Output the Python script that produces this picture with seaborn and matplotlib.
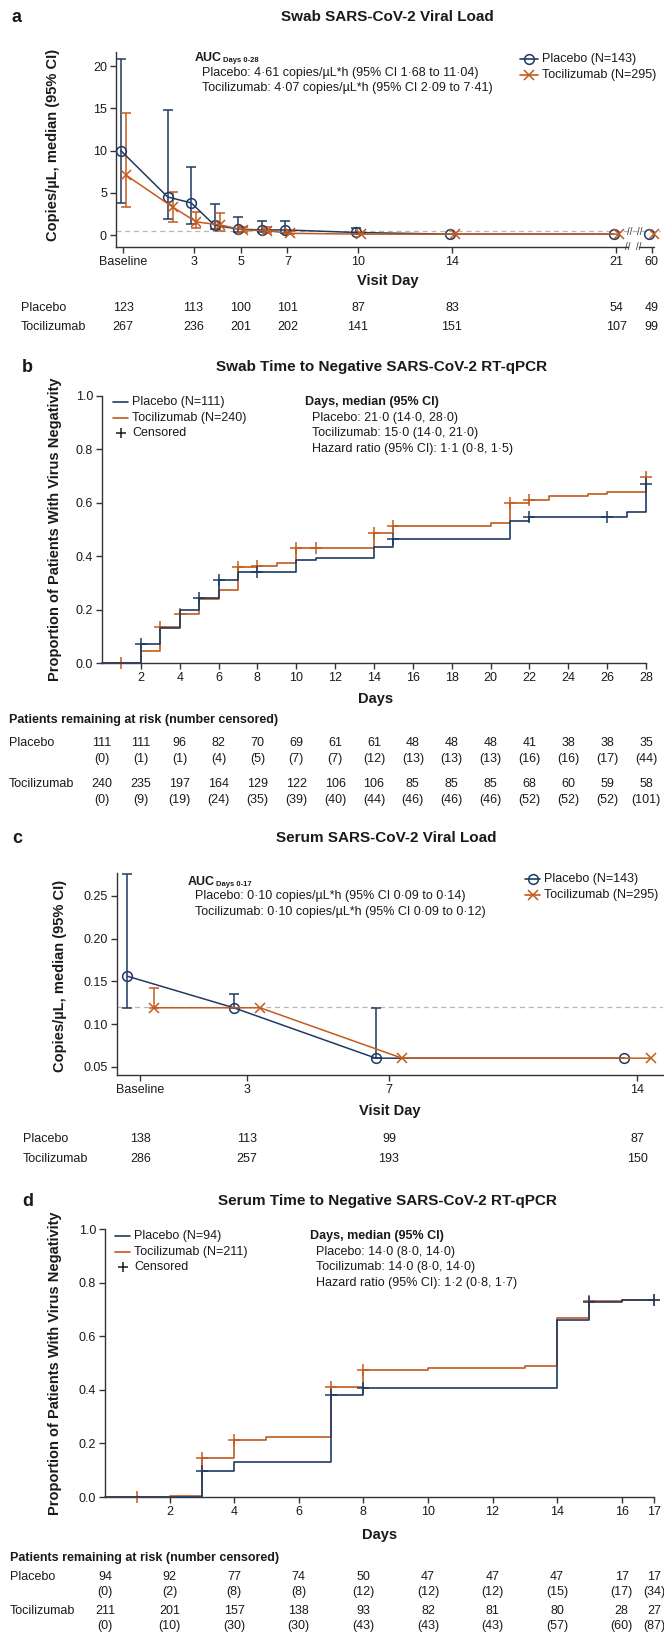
#!/usr/bin/env python3
"""
Swab / serum SARS-CoV-2 viral load and time to negative RT-qPCR (4 panels)
"""

import numpy as np
import pandas as pd
import matplotlib
matplotlib.use('Agg')
import matplotlib.pyplot as plt
import matplotlib.transforms as mtransforms
from matplotlib.lines import Line2D
from matplotlib.ticker import FormatStrFormatter
import seaborn as sns

sns.set_theme(style='ticks')
plt.rcParams['font.family'] = ['Liberation Sans', 'DejaVu Sans']
plt.rcParams['text.color'] = '#1a1a1a'

# ---------------- data ----------------
# a: swab viral load, median (95% CI) by visit day (0 = baseline)
swab_days = [0, 2, 3, 4, 5, 6, 7, 10, 14, 21, 60]
swab_pbo_med = [10.0, 4.5, 3.8, 1.15, 0.7, 0.6, 0.6, 0.3, 0.1, 0.1, 0.1]
swab_pbo_lo = [3.8, 1.9, 1.3, 0.7, 0.4, 0.3, 0.2, 0.1, 0.1, 0.1, 0.1]
swab_pbo_hi = [20.8, 14.8, 8.0, 3.7, 2.1, 1.7, 1.6, 0.8, 0.1, 0.1, 0.1]
swab_tcz_med = [7.1, 3.3, 1.55, 1.2, 0.6, 0.5, 0.2, 0.1, 0.1, 0.1, 0.1]
swab_tcz_lo = [3.3, 1.5, 0.8, 0.5, 0.3, 0.2, 0.1, 0.1, 0.1, 0.1, 0.1]
swab_tcz_hi = [14.4, 5.1, 2.7, 2.6, 1.0, 1.0, 0.5, 0.2, 0.1, 0.1, 0.1]
swab_tick_days = [0, 3, 5, 7, 10, 14, 21, 60]
swab_tick_labels = ['Baseline', '3', '5', '7', '10', '14', '21', '60']
swab_n_pbo = [123, 113, 100, 101, 87, 83, 54, 49]
swab_n_tcz = [267, 236, 201, 202, 141, 151, 107, 99]

# b: swab time to negative RT-qPCR (Kaplan-Meier)
swab_km_pbo_t = [0, 2, 3, 4, 5, 6, 7, 10, 11, 14, 15, 21, 22, 27, 28]
swab_km_pbo_s = [0, 0.07, 0.13, 0.20, 0.245, 0.31, 0.34, 0.385, 0.395, 0.435, 0.465,
                 0.53, 0.548, 0.567, 0.67]
swab_km_pbo_cens = [2, 5, 6, 8, 15, 22, 26, 28]
swab_km_tcz_t = [0, 2, 3, 4, 5, 6, 7, 8, 9, 10, 14, 15, 20, 21, 22, 23, 25, 26, 28]
swab_km_tcz_s = [0, 0.045, 0.135, 0.185, 0.24, 0.275, 0.36, 0.365, 0.375, 0.43, 0.488,
                 0.513, 0.523, 0.60, 0.61, 0.625, 0.633, 0.64, 0.695]
swab_km_tcz_cens = [1, 3, 4, 7, 8, 10, 11, 14, 15, 21, 22, 28]
swab_risk_days = list(range(0, 29, 2))
swab_risk_pbo = [111, 111, 96, 82, 70, 69, 61, 61, 48, 48, 48, 41, 38, 38, 35]
swab_cens_pbo = [0, 1, 1, 4, 5, 7, 7, 12, 13, 13, 13, 16, 16, 17, 44]
swab_risk_tcz = [240, 235, 197, 164, 129, 122, 106, 106, 85, 85, 85, 68, 60, 59, 58]
swab_cens_tcz = [0, 9, 19, 24, 35, 39, 40, 44, 46, 46, 46, 52, 52, 52, 101]

# c: serum viral load
serum_days = [0, 3, 7, 14]
serum_pbo_med = [0.156, 0.119, 0.06, 0.06]
serum_pbo_lo = [0.119, 0.119, 0.06, 0.06]
serum_pbo_hi = [0.276, 0.135, 0.119, 0.06]
serum_tcz_med = [0.119, 0.119, 0.06, 0.06]
serum_tcz_lo = [0.119, 0.119, 0.06, 0.06]
serum_tcz_hi = [0.142, 0.119, 0.06, 0.06]
serum_tick_labels = ['Baseline', '3', '7', '14']
serum_n_pbo = [138, 113, 99, 87]
serum_n_tcz = [286, 257, 193, 150]

# d: serum time to negative RT-qPCR
serum_km_pbo_t = [0, 3, 4, 7, 8, 14, 15, 16, 17]
serum_km_pbo_s = [0, 0.098, 0.132, 0.38, 0.405, 0.66, 0.726, 0.734, 0.734]
serum_km_pbo_cens = [3, 7, 8, 15, 17]
serum_km_tcz_t = [0, 2, 3, 4, 5, 7, 8, 10, 13, 14, 15, 16, 17]
serum_km_tcz_s = [0, 0.005, 0.145, 0.213, 0.224, 0.41, 0.475, 0.48, 0.487, 0.668, 0.73,
                  0.734, 0.734]
serum_km_tcz_cens = [1, 3, 4, 7, 8, 15, 17]
serum_risk_days = [0, 2, 4, 6, 8, 10, 12, 14, 16, 17]
serum_risk_pbo = [94, 92, 77, 74, 50, 47, 47, 47, 17, 17]
serum_cens_pbo = [0, 2, 8, 8, 12, 12, 12, 15, 17, 34]
serum_risk_tcz = [211, 201, 157, 138, 93, 82, 81, 80, 28, 27]
serum_cens_tcz = [0, 10, 30, 30, 43, 43, 43, 57, 60, 87]

# ---------------- layout helpers ----------------
NAVY = '#1f3b63'
ORANGE = '#c45a1c'
SPINE = '#333333'
W, H = 664, 1644

fig = plt.figure(figsize=(W / 100, H / 100), dpi=100)


def fx(x):
    return x / W


def fy(y):
    return 1 - y / H


def add_ax(l, t, r, b):
    return fig.add_axes([fx(l), fy(b), (r - l) / W, (b - t) / H])


def ftext(x, y, s, **kw):
    kw.setdefault('va', 'center')
    kw.setdefault('fontsize', 9)
    return fig.text(fx(x), fy(y), s, **kw)


def style_axes(ax):
    sns.despine(ax=ax)
    for sp in ['left', 'bottom']:
        ax.spines[sp].set_linewidth(1.0)
        ax.spines[sp].set_color(SPINE)
    ax.tick_params(direction='out', length=4, width=1.0, color=SPINE,
                   labelsize=9, pad=2.5, labelcolor='#1a1a1a')
    ax.set_xlabel('')
    ax.set_ylabel('')
    ax.grid(False)


def legend_row(x0, x1, y, label, color, marker=None, line=True):
    if line:
        fig.add_artist(Line2D([fx(x0), fx(x1)], [fy(y), fy(y)], color=color, lw=1.2,
                              transform=fig.transFigure))
    if marker:
        fig.add_artist(Line2D([fx((x0 + x1) / 2)], [fy(y)], marker=marker, ms=7,
                              mfc='none', mec=color, mew=1.1, ls='none',
                              transform=fig.transFigure))
    ftext(x1 + 4, y, label)


def km_at(t_list, s_list, t):
    idx = np.searchsorted(t_list, t, side='right') - 1
    return s_list[idx]


def draw_km(ax, t, s, cens, col, z):
    sns.lineplot(x=t, y=s, ax=ax, color=col, lw=1.2, drawstyle='steps-post',
                 estimator=None, sort=False, errorbar=None, zorder=z)
    ax.lines[-1].set_clip_on(False)
    cy = [km_at(t, s, c) for c in cens]
    ax.plot(cens, cy, ls='none', marker='+', ms=8, mew=1.1, color=col,
            clip_on=False, zorder=z + 0.5)


def draw_load(ax, pos, med, lo, hi, col, mk, segments):
    pos, med, lo, hi = map(np.asarray, (pos, med, lo, hi))
    for seg in segments:
        sns.lineplot(x=pos[seg], y=med[seg], ax=ax, color=col, lw=1.1, marker=mk,
                     markersize=7 if mk == 'o' else 6.5, markerfacecolor='none',
                     markeredgecolor=col, markeredgewidth=1.1,
                     estimator=None, sort=False, errorbar=None, zorder=3)
    has_ci = (hi > med) | (lo < med)
    ax.errorbar(pos[has_ci], med[has_ci], yerr=[med[has_ci] - lo[has_ci], hi[has_ci] - med[has_ci]],
                fmt='none', ecolor=col, elinewidth=1.1, capsize=3.5, capthick=1.1, zorder=2)


def risk_row(ax, xs, y, values, **kw):
    trans = mtransforms.blended_transform_factory(ax.transData, fig.transFigure)
    for x, v in zip(xs, values):
        ax.text(x, fy(y), v, transform=trans, ha='center', va='center',
                fontsize=9, clip_on=False, **kw)


# ================= panel a =================
def swab_pos(d):
    # broken axis: day 60 sits just after day 21
    return d if d <= 21 else 22.5


ax = add_ax(116, 52, 661, 247)
ax.set_xlim(-0.3, 22.9)
ax.set_ylim(-1.42, 21.66)
ax.axhline(0.5, color='#b8b8b8', ls=(0, (4, 3)), lw=0.9, zorder=0)
days = np.array(swab_days)
segs = [days <= 21, days > 21]
draw_load(ax, [swab_pos(d) - 0.1 for d in swab_days], swab_pbo_med, swab_pbo_lo,
          swab_pbo_hi, NAVY, 'o', segs)
draw_load(ax, [swab_pos(d) + 0.12 for d in swab_days], swab_tcz_med, swab_tcz_lo,
          swab_tcz_hi, ORANGE, 'x', segs)
style_axes(ax)
ax.set_yticks([0, 5, 10, 15, 20])
ax.set_xticks([swab_pos(d) for d in swab_tick_days])
ax.set_xticklabels(swab_tick_labels)
# broken bottom axis
ax.spines['bottom'].set_bounds(-0.3, 21.5)
xtrans = mtransforms.blended_transform_factory(ax.transData, ax.transAxes)
ax.plot([21.95, 22.6], [0, 0], color=SPINE, lw=1.0, transform=xtrans, clip_on=False)
for bx in (21.5, 21.95):
    ax.text(bx, 0, '//', transform=xtrans, ha='center', va='center', fontsize=7,
            color=SPINE, clip_on=False)
    ax.text(bx + 0.05, 0.35, '//', ha='center', va='center', fontsize=7, color=SPINE)

ftext(12, 17, 'a', fontsize=13, fontweight='bold')
ftext(387, 17, 'Swab SARS-CoV-2 Viral Load', fontsize=11, fontweight='bold', ha='center')
ftext(53, 145, 'Copies/µL, median (95% CI)', fontsize=10.5, fontweight='bold',
      rotation=90, ha='center')
ftext(388, 281, 'Visit Day', fontsize=10.5, fontweight='bold', ha='center')
auc = ftext(195, 58, 'AUC', fontweight='bold')
ax.annotate('Days 0-28', xy=(1, 0), xycoords=auc, xytext=(0.5, 0),
            textcoords='offset points', fontsize=5.5, fontweight='bold',
            va='bottom', ha='left', annotation_clip=False)
ftext(202, 73, 'Placebo: 4·61 copies/µL*h (95% CI 1·68 to 11·04)')
ftext(202, 88, 'Tocilizumab: 4·07 copies/µL*h (95% CI 2·09 to 7·41)')
legend_row(520, 538, 59, 'Placebo (N=143)', NAVY, marker='o')
legend_row(520, 538, 75, 'Tocilizumab (N=295)', ORANGE, marker='x')

ftext(21, 308, 'Placebo')
ftext(21, 327, 'Tocilizumab')
risk_row(ax, [swab_pos(d) for d in swab_tick_days], 308, swab_n_pbo)
risk_row(ax, [swab_pos(d) for d in swab_tick_days], 327, swab_n_tcz)

# ================= panel b =================
ax = add_ax(102, 396, 646, 663)
ax.set_xlim(0, 28)
ax.set_ylim(0, 1)
draw_km(ax, swab_km_tcz_t, swab_km_tcz_s, swab_km_tcz_cens, ORANGE, 3)
draw_km(ax, swab_km_pbo_t, swab_km_pbo_s, swab_km_pbo_cens, NAVY, 4)
style_axes(ax)
ax.set_xticks(range(2, 29, 2))
ax.set_yticks(np.arange(0, 1.01, 0.2))
ax.yaxis.set_major_formatter(FormatStrFormatter('%.1f'))

ftext(22, 367, 'b', fontsize=13, fontweight='bold')
ftext(382, 367, 'Swab Time to Negative SARS-CoV-2 RT-qPCR', fontsize=11,
      fontweight='bold', ha='center')
ftext(55, 529, 'Proportion of Patients With Virus Negativity', fontsize=10.5,
      fontweight='bold', rotation=90, ha='center')
ftext(376, 699, 'Days', fontsize=10.5, fontweight='bold', ha='center')
legend_row(113, 128, 402, 'Placebo (N=111)', NAVY)
legend_row(113, 128, 418, 'Tocilizumab (N=240)', ORANGE)
legend_row(113, 128, 433, 'Censored', '#1a1a1a', marker='+', line=False)
ftext(305, 402, 'Days, median (95% CI)', fontweight='bold')
ftext(312, 418, 'Placebo: 21·0 (14·0, 28·0)')
ftext(312, 433, 'Tocilizumab: 15·0 (14·0, 21·0)')
ftext(312, 449, 'Hazard ratio (95% CI): 1·1 (0·8, 1·5)')

ftext(9, 720, 'Patients remaining at risk (number censored)', fontweight='bold')
ftext(9, 743, 'Placebo')
ftext(9, 784, 'Tocilizumab')
risk_row(ax, swab_risk_days, 743, swab_risk_pbo)
risk_row(ax, swab_risk_days, 759, [f'({c})' for c in swab_cens_pbo])
risk_row(ax, swab_risk_days, 784, swab_risk_tcz)
risk_row(ax, swab_risk_days, 800, [f'({c})' for c in swab_cens_tcz])

# ================= panel c =================
ax = add_ax(117, 873, 663, 1075)
ax.set_xlim(-0.66, 14.72)
ax.set_ylim(0.0403, 0.2768)
ax.axhline(0.12, color='#b8b8b8', ls=(0, (4, 3)), lw=0.9, zorder=0)
allseg = [np.ones(len(serum_days), dtype=bool)]
draw_load(ax, [d - 0.37 for d in serum_days], serum_pbo_med, serum_pbo_lo,
          serum_pbo_hi, NAVY, 'o', allseg)
draw_load(ax, [d + 0.37 for d in serum_days], serum_tcz_med, serum_tcz_lo,
          serum_tcz_hi, ORANGE, 'x', allseg)
style_axes(ax)
ax.set_yticks([0.05, 0.10, 0.15, 0.20, 0.25])
ax.yaxis.set_major_formatter(FormatStrFormatter('%.2f'))
ax.set_xticks(serum_days)
ax.set_xticklabels(serum_tick_labels)

ftext(12, 838, 'c', fontsize=13, fontweight='bold')
ftext(386, 838, 'Serum SARS-CoV-2 Viral Load', fontsize=11, fontweight='bold', ha='center')
ftext(60, 976, 'Copies/µL, median (95% CI)', fontsize=10.5, fontweight='bold',
      rotation=90, ha='center')
ftext(390, 1111, 'Visit Day', fontsize=10.5, fontweight='bold', ha='center')
auc = ftext(188, 882, 'AUC', fontweight='bold')
ax.annotate('Days 0-17', xy=(1, 0), xycoords=auc, xytext=(0.5, 0),
            textcoords='offset points', fontsize=5.5, fontweight='bold',
            va='bottom', ha='left', annotation_clip=False)
ftext(195, 896, 'Placebo: 0·10 copies/µL*h (95% CI 0·09 to 0·14)')
ftext(195, 912, 'Tocilizumab: 0·10 copies/µL*h (95% CI 0·09 to 0·12)')
legend_row(525, 540, 879, 'Placebo (N=143)', NAVY, marker='o')
legend_row(525, 540, 895, 'Tocilizumab (N=295)', ORANGE, marker='x')

ftext(23, 1139, 'Placebo')
ftext(23, 1159, 'Tocilizumab')
risk_row(ax, serum_days, 1139, serum_n_pbo)
risk_row(ax, serum_days, 1159, serum_n_tcz)

# ================= panel d =================
ax = add_ax(105, 1229, 654, 1497)
ax.set_xlim(0, 17)
ax.set_ylim(0, 1)
draw_km(ax, serum_km_tcz_t, serum_km_tcz_s, serum_km_tcz_cens, ORANGE, 3)
draw_km(ax, serum_km_pbo_t, serum_km_pbo_s, serum_km_pbo_cens, NAVY, 4)
style_axes(ax)
ax.set_xticks([2, 4, 6, 8, 10, 12, 14, 16, 17])
ax.set_yticks(np.arange(0, 1.01, 0.2))
ax.yaxis.set_major_formatter(FormatStrFormatter('%.1f'))

ftext(22, 1201, 'd', fontsize=13, fontweight='bold')
ftext(387, 1201, 'Serum Time to Negative SARS-CoV-2 RT-qPCR', fontsize=11,
      fontweight='bold', ha='center')
ftext(55, 1363, 'Proportion of Patients With Virus Negativity', fontsize=10.5,
      fontweight='bold', rotation=90, ha='center')
ftext(380, 1535, 'Days', fontsize=10.5, fontweight='bold', ha='center')
legend_row(115, 130, 1236, 'Placebo (N=94)', NAVY)
legend_row(115, 130, 1252, 'Tocilizumab (N=211)', ORANGE)
legend_row(115, 130, 1267, 'Censored', '#1a1a1a', marker='+', line=False)
ftext(310, 1236, 'Days, median (95% CI)', fontweight='bold')
ftext(316, 1252, 'Placebo: 14·0 (8·0, 14·0)')
ftext(316, 1267, 'Tocilizumab: 14·0 (8·0, 14·0)')
ftext(316, 1283, 'Hazard ratio (95% CI): 1·2 (0·8, 1·7)')

ftext(10, 1558, 'Patients remaining at risk (number censored)', fontweight='bold')
ftext(10, 1577, 'Placebo')
ftext(10, 1611, 'Tocilizumab')
risk_row(ax, serum_risk_days, 1577, serum_risk_pbo)
risk_row(ax, serum_risk_days, 1592, [f'({c})' for c in serum_cens_pbo])
risk_row(ax, serum_risk_days, 1611, serum_risk_tcz)
risk_row(ax, serum_risk_days, 1626, [f'({c})' for c in serum_cens_tcz])

fig.savefig('out.png', dpi=100)
